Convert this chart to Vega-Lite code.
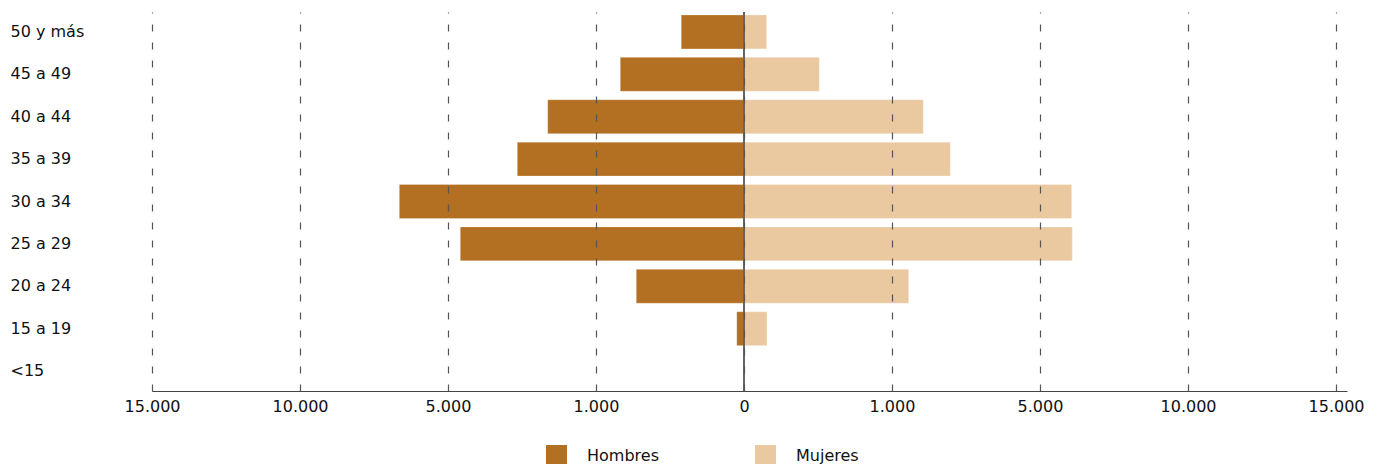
{
  "$schema": "https://vega.github.io/schema/vega-lite/v6.json",
  "autosize": "none",
  "width": 1195,
  "height": 379,
  "padding": {"left": 152, "top": 12, "right": 39, "bottom": 73},
  "background": "white",
  "config": {"view": {"stroke": null}, "font": "Liberation Sans"},
  "data": {
    "values": [
      {"grupo": "50 y más", "sexo": "Hombres", "valor": -424},
      {"grupo": "45 a 49", "sexo": "Hombres", "valor": -836},
      {"grupo": "40 a 44", "sexo": "Hombres", "valor": -2306},
      {"grupo": "35 a 39", "sexo": "Hombres", "valor": -3127},
      {"grupo": "30 a 34", "sexo": "Hombres", "valor": -6645},
      {"grupo": "25 a 29", "sexo": "Hombres", "valor": -4668},
      {"grupo": "20 a 24", "sexo": "Hombres", "valor": -728},
      {"grupo": "15 a 19", "sexo": "Hombres", "valor": -49},
      {"grupo": "<15", "sexo": "Hombres", "valor": 0},
      {"grupo": "50 y más", "sexo": "Mujeres", "valor": 153},
      {"grupo": "45 a 49", "sexo": "Mujeres", "valor": 509},
      {"grupo": "40 a 44", "sexo": "Mujeres", "valor": 1846},
      {"grupo": "35 a 39", "sexo": "Mujeres", "valor": 2576},
      {"grupo": "30 a 34", "sexo": "Mujeres", "valor": 6071},
      {"grupo": "25 a 29", "sexo": "Mujeres", "valor": 6091},
      {"grupo": "20 a 24", "sexo": "Mujeres", "valor": 1451},
      {"grupo": "15 a 19", "sexo": "Mujeres", "valor": 155},
      {"grupo": "<15", "sexo": "Mujeres", "valor": 0}
    ]
  },
  "layer": [
    {
      "mark": {"type": "bar", "stroke": "#ffffff", "strokeOpacity": 0.35, "strokeWidth": 0.8},
      "encoding": {
        "y": {
          "field": "grupo",
          "type": "nominal",
          "sort": ["50 y más", "45 a 49", "40 a 44", "35 a 39", "30 a 34", "25 a 29", "20 a 24", "15 a 19", "<15"],
          "scale": {"paddingInner": 0.2, "paddingOuter": 0.07},
          "axis": {
            "title": null,
            "domain": false,
            "ticks": false,
            "labelAlign": "left",
            "labelPadding": 142,
            "labelFont": "DejaVu Sans",
            "labelFontSize": 16,
            "labelColor": "#111111",
            "labelLimit": 200
          }
        },
        "x": {
          "field": "valor",
          "type": "quantitative",
          "stack": null,
          "scale": {
            "domain": [-15000, -10000, -5000, -1000, 0, 1000, 5000, 10000, 15000, 15372],
            "range": [0, 148, 296, 444, 592, 740, 888, 1036, 1184, 1195],
            "nice": false,
            "zero": false,
            "clamp": false
          },
          "axis": {
            "title": null,
            "values": [-15000, -10000, -5000, -1000, 0, 1000, 5000, 10000, 15000],
            "labelExpr": "replace(format(abs(datum.value), ','), ',', '.')",
            "labelFont": "DejaVu Sans",
            "labelFontSize": 16,
            "labelColor": "#111111",
            "labelPadding": 7,
            "labelFlush": false,
            "labelOverlap": false,
            "ticks": false,
            "domainColor": "#444444",
            "domainWidth": 1.2,
            "grid": true,
            "gridColor": "#555555",
            "gridDash": [7, 11],
            "gridWidth": 1.2,
            "zindex": 1
          }
        },
        "color": {
          "field": "sexo",
          "type": "nominal",
          "scale": {"domain": ["Hombres", "Mujeres"], "range": ["#B36F22", "#EAC9A0"]},
          "legend": {
            "title": null,
            "orient": "none",
            "direction": "horizontal",
            "legendX": 394,
            "legendY": 433,
            "padding": 0,
            "symbolType": "square",
            "symbolSize": 441,
            "symbolStrokeWidth": 0,
            "symbolOpacity": 1,
            "labelFont": "DejaVu Sans",
            "labelFontSize": 16,
            "labelColor": "#111111",
            "labelOffset": 20,
            "columnPadding": 96
          }
        }
      }
    },
    {
      "mark": {"type": "rule", "color": "#666666", "strokeWidth": 1.5},
      "encoding": {"x": {"datum": 0, "type": "quantitative"}}
    }
  ]
}
